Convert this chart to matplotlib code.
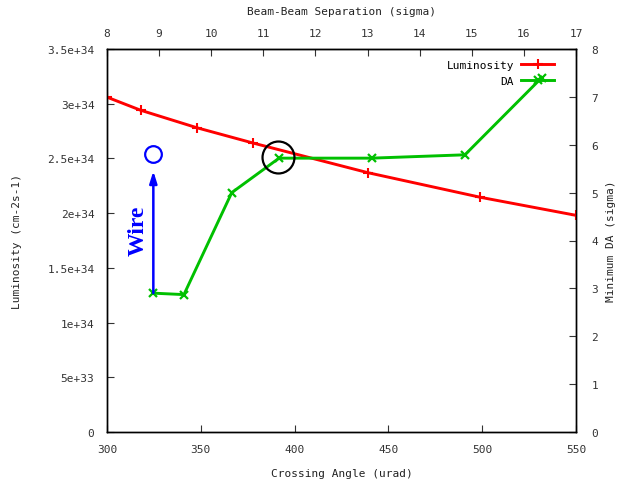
import matplotlib
matplotlib.use("Agg")
import matplotlib.pyplot as plt
from matplotlib.lines import Line2D

# Data
lum_angle = [300, 318, 348, 378, 439, 499, 550]
lum_values = [3.06e34, 2.94e34, 2.78e34, 2.64e34, 2.37e34, 2.145e34, 1.98e34]
da_angle = [324.7, 341, 366.5, 391.7, 441, 490.8, 531.7]
da_values = [2.90, 2.87, 5.0, 5.72, 5.72, 5.79, 7.40]
lum_ticks = [0, 5e33, 1e34, 1.5e34, 2e34, 2.5e34, 3e34, 3.5e34]
da_ticks = [0, 1, 2, 3, 4, 5, 6, 7, 8]
angle_ticks = [300, 350, 400, 450, 500, 550]
sep_ticks = [8, 9, 10, 11, 12, 13, 14, 15, 16, 17]

RED = "#ff0000"
GREEN = "#00c000"
BLUE = "#0000ff"
mono = "DejaVu Sans Mono"
fs = 8

fig = plt.figure(figsize=(6.21, 4.89), dpi=100)
ax = fig.add_axes([107/621, 1-433/489, (576-107)/621, (433-50)/489])
ax.set_xlim(300, 550)
ax.set_ylim(0, 3.5e34)

ax.plot(lum_angle, lum_values, color=RED, lw=2.1, marker="+", ms=7, mew=1.5,
        label="Luminosity", zorder=3)

ax2 = ax.twinx()
ax2.set_ylim(0, 8)
ax2.plot(da_angle, da_values, color=GREEN, lw=2.1, marker="x", ms=5.5, mew=1.6,
         label="DA", zorder=3)

# annotations
ax2.annotate("", xy=(da_angle[0], 5.45), xytext=(da_angle[0], da_values[0]),
             arrowprops=dict(arrowstyle="-|>,head_length=0.7,head_width=0.22",
                             color=BLUE, lw=1.8, shrinkA=0, shrinkB=0))
ax2.plot([da_angle[0]], [5.8], marker="o", ms=12, mfc="white", mec=BLUE, mew=1.6)
ax2.text(316.5, 4.23, "Wire", rotation=90, color=BLUE, fontsize=17,
         fontweight="bold", family="Liberation Serif", ha="center", va="center")
ax2.plot([391.0], [5.74], marker="o", ms=23, mfc="none", mec="black", mew=1.6,
         zorder=5)

# ticks
for a in (ax, ax2):
    a.tick_params(direction="in", length=5, width=0.8, labelsize=fs, colors="#333333",
                  labelcolor="#333333")
    for sp in a.spines.values():
        sp.set_linewidth(1.0)
        sp.set_color("black")

ax.set_xticks(angle_ticks)
ax.set_xticklabels([str(v) for v in angle_ticks], family=mono, fontsize=fs)
ax.set_yticks(lum_ticks)
ax.set_yticklabels(["%g" % v for v in lum_ticks], family=mono, fontsize=fs)
ax.tick_params(axis="y", pad=9, right=False)
ax.tick_params(axis="x", pad=9, top=False)
ax2.set_yticks(da_ticks)
ax2.set_yticklabels([str(v) for v in da_ticks], family=mono, fontsize=fs)
ax2.tick_params(axis="y", pad=11)

f = lambda x: 8 + (x - 300) * 9 / 250
finv = lambda s: 300 + (s - 8) * 250 / 9
top = ax.secondary_xaxis("top", functions=(f, finv))
top.set_xticks(sep_ticks)
top.set_xticklabels([str(v) for v in sep_ticks], family=mono, fontsize=fs)
top.tick_params(direction="in", length=5, width=0.8, pad=8, colors="#333333")
top.set_xlabel("Beam-Beam Separation (sigma)", family=mono, fontsize=fs,
               labelpad=10, color="#222222")

ax.set_xlabel("Crossing Angle (urad)", family=mono, fontsize=fs, labelpad=10,
              color="#222222")
ax.set_ylabel("Luminosity (cm-2s-1)", family=mono, fontsize=fs, labelpad=18,
              color="#222222")
ax2.set_ylabel("Minimum DA (sigma)", family=mono, fontsize=fs, labelpad=6,
               color="#222222", rotation=90)

handles = [Line2D([], [], color=RED, lw=2.1, marker="+", ms=7, mew=1.5),
           Line2D([], [], color=GREEN, lw=2.1, marker="x", ms=5.5, mew=1.6)]
leg = ax2.legend(handles, ["Luminosity", "DA"], loc="upper right",
                 bbox_to_anchor=(1 - 14/469, 1 - 3/383),
                 markerfirst=False, frameon=False, prop={"family": mono, "size": fs},
                 handlelength=3.0, handletextpad=0.6, borderaxespad=0.3,
                 labelspacing=0.55)

fig.savefig("out.png", dpi=100)
